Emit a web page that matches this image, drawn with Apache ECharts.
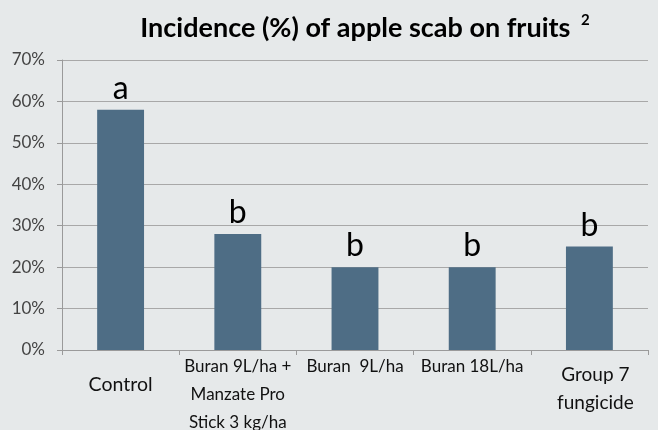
<!DOCTYPE html>
<html>
<head>
<meta charset="utf-8">
<script src="https://cdn.jsdelivr.net/npm/echarts@6/dist/echarts.min.js"></script>
<style>
html, body { margin: 0; padding: 0; background: #E6E9EA; }
#main { width: 658px; height: 430px; }
</style>
</head>
<body>
<div id="main"></div>
<script>
var categories = ['Control', 'Buran 9L/ha +\nManzate Pro\nStick 3 kg/ha', 'Buran  9L/ha', 'Buran 18L/ha', 'Group 7\nfungicide'];
var labelSize = [19.5, 17, 17, 17, 19];
var labelPad = [[18, 0, 0, 0], [0, 0, 0, 0], [0, 0, 0, 0], [0, 0, 0, 0], [8, 0, 0, 12]];
var incidence = [58, 28, 20, 20, 25];
var letters = ['a', 'b', 'b', 'b', 'b'];
var yTicks = [0, 10, 20, 30, 40, 50, 60, 70];

var myChart = echarts.init(document.getElementById('main'));

var cat_data = [];
categories.forEach(function(c, i) {
	cat_data.push({value: c, textStyle: {fontSize: labelSize[i], padding: labelPad[i]}});
});

var bar_data = [];
incidence.forEach(function(v, i) {
	bar_data.push({value: v, label: {formatter: letters[i]}});
});

option = {
		backgroundColor: '#E6E9EA',
		title: {
			text: 'Incidence (%) of apple scab on fruits {sup|2}',
			left: 360,
			textAlign: 'center',
			top: 8,
			textStyle: {
				fontFamily: 'Lato',
				fontWeight: 'bold',
				fontSize: 27,
				color: '#000',
				rich: {
					sup: {fontFamily: 'Lato', fontWeight: 'bold', fontSize: 15, color: '#000', verticalAlign: 'top', padding: [0, 0, 16, 4]}
				}
			}
		},
		grid: {left: 62, right: 10, top: 60, bottom: 80, outerBoundsMode: 'none'},
		xAxis: {
			type: 'category',
			data: cat_data,
			axisLine: {lineStyle: {color: '#9A9A9A'}},
			axisTick: {show: true, alignWithLabel: false, length: 5, lineStyle: {color: '#9A9A9A'}},
			axisLabel: {
				interval: 0,
				margin: 3,
				fontFamily: 'Lato',
				fontSize: 17,
				lineHeight: 28,
				color: '#111',
				verticalAlign: 'top'
			}
		},
		yAxis: {
			type: 'value',
			min: 0,
			max: 70,
			interval: 10,
			axisLine: {show: true, lineStyle: {color: '#9A9A9A'}},
			axisTick: {show: true, length: 5, lineStyle: {color: '#9A9A9A'}},
			splitLine: {lineStyle: {color: '#A8A8A8', width: 1}},
			axisLabel: {
				margin: 17,
				fontFamily: 'Lato',
				fontSize: 17,
				color: '#444',
				formatter: function(v) { return yTicks.indexOf(v) >= 0 ? v + '%' : ''; }
			}
		},
		series: [{
			type: 'bar',
			data: bar_data,
			barWidth: '40%',
			itemStyle: {color: '#4E6D85'},
			label: {
				show: true,
				position: 'top',
				distance: 5,
				fontFamily: 'Lato',
				fontSize: 32,
				color: '#000'
			}
		}]
};
myChart.setOption(option);
</script>
</body>
</html>
